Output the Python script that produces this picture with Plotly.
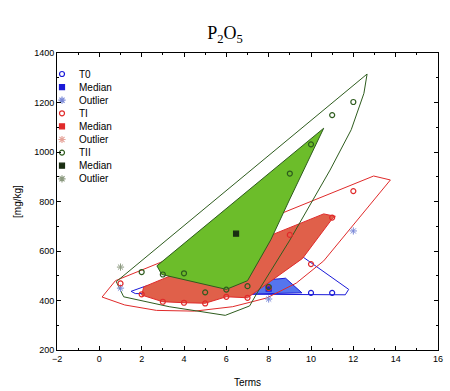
import plotly.graph_objects as go

# ---------------- data ----------------
# T0 (blue)
t0_x = [10, 11]
t0_y = [431, 431]
t0_med_x = [8]
t0_med_y = [448]
t0_out_x = [1, 8, 12]
t0_out_y = [450, 406, 681]
t0_bag_x = [2.3, 8.8, 9.57, 7.0, 2.3]
t0_bag_y = [440, 490, 431, 426, 432]
t0_fence_x = [1.5, 2.15, 9.65, 11.78, 11.62, 1.7, 1.5]
t0_fence_y = [437, 457, 574, 445, 423, 428, 437]

# TI (red)
t1_x = [1, 2, 3, 4, 5, 6, 7, 8, 9, 10, 11, 12]
t1_y = [469, 425, 395, 391, 388, 415, 411, 450, 665, 547, 735, 842]
t1_med_x = [6.5]
t1_med_y = [545]
t1_out_x = []
t1_out_y = []
t1_bag_x = [2.0, 2.1, 3.0, 10.6, 11.15, 11.0, 9.6, 7.0, 6.0, 5.0, 4.0, 3.0, 2.0]
t1_bag_y = [422, 455, 487, 750, 740, 730, 570, 411, 415, 389, 391, 395, 422]
t1_fence_x = [0.13, 0.76, 12.96, 13.75, 10.6, 9.3, 7.9, 6.3, 4.5, 2.7, 1.2, 0.13]
t1_fence_y = [414, 480, 903, 887, 560, 470, 410, 375, 357, 360, 382, 414]

# TII (green)
t2_x = [2, 3, 4, 5, 6, 7, 8, 9, 10, 11, 12]
t2_y = [515, 505, 510, 433, 444, 458, 455, 913, 1031, 1149, 1202]
t2_med_x = [6.46]
t2_med_y = [670]
t2_out_x = [1]
t2_out_y = [535]
t2_bag_x = [2.72, 10.6, 9.0, 8.1, 7.0, 6.0, 2.95, 2.72]
t2_bag_y = [540, 1096, 810, 645, 480, 445, 505, 540]
t2_fence_x = [0.8, 12.65, 12.5, 11.9, 10.9, 9.65, 9.0, 7.45, 7.1, 5.95, 3.3, 1.15, 0.8]
t2_fence_y = [476, 1315, 1237, 1090, 927, 739, 644, 430, 378, 340, 375, 415, 476]

x_ticks = [-2, 0, 2, 4, 6, 8, 10, 12, 14, 16]
y_ticks = [200, 400, 600, 800, 1000, 1200, 1400]

legend_labels = ["T0", "Median", "Outlier", "TI", "Median", "Outlier", "TII", "Median", "Outlier"]

# ---------------- styles ----------------
BLUE = "#1a1ad8"
BLUE_FILL = "#5575ee"
BLUE_OUT = "#7b8ad8"
RED = "#e02a2a"
RED_FILL = "#e0604a"
RED_OUT = "#e6a49a"
GREEN = "#2e5c1e"
GREEN_FILL = "#6cbd2a"
GREEN_MED = "#1a2e12"
GREEN_OUT = "#8c9a80"

legend_styles = [
    ("circle-open", BLUE, 5), ("square", BLUE, 5), ("asterisk-open", BLUE_OUT, 6),
    ("circle-open", RED, 5), ("square", RED, 5), ("asterisk-open", RED_OUT, 6),
    ("circle-open", GREEN, 5), ("square", GREEN_MED, 5), ("asterisk-open", GREEN_OUT, 6),
]

fig = go.Figure()

def poly(x, y, line_color, fill_color=None, width=1.0):
    fig.add_trace(go.Scatter(
        x=x, y=y, mode="lines",
        line=dict(color=line_color, width=width),
        fill="toself" if fill_color else None,
        fillcolor=fill_color,
        showlegend=False, hoverinfo="skip"))

def pts(x, y, name, symbol, color, size, lw=1.2):
    fig.add_trace(go.Scatter(
        x=x, y=y, mode="markers", name=name, showlegend=False,
        marker=dict(symbol=symbol, color=color, size=size,
                    line=dict(color=color, width=lw))))

# blue layer
poly(t0_fence_x, t0_fence_y, BLUE)
poly(t0_bag_x, t0_bag_y, BLUE, BLUE_FILL)
pts(t0_med_x, t0_med_y, "Median", "square", BLUE, 5)
# red layer
poly(t1_bag_x, t1_bag_y, RED, RED_FILL)
poly(t1_fence_x, t1_fence_y, RED)
pts(t1_med_x, t1_med_y, "Median", "square", RED, 5)
# green layer
poly(t2_bag_x, t2_bag_y, GREEN, GREEN_FILL)
poly(t2_fence_x, t2_fence_y, GREEN)
pts(t2_med_x, t2_med_y, "Median", "square", GREEN_MED, 5)

# points
pts(t0_x, t0_y, "T0", "circle-open", BLUE, 5)
pts(t0_out_x, t0_out_y, "Outlier", "asterisk-open", BLUE_OUT, 6, 1.0)
pts(t1_x, t1_y, "TI", "circle-open", RED, 5)
pts(t1_out_x, t1_out_y, "Outlier", "asterisk-open", RED_OUT, 6, 1.0)
pts(t2_x, t2_y, "TII", "circle-open", GREEN, 5)
pts(t2_out_x, t2_out_y, "Outlier", "asterisk-open", GREEN_OUT, 6, 1.0)

# ---------------- manual legend (compact rows like the original) ----------------
W, H = 450, 391
ML, MR, MT, MB = 57, 12, 53, 41
plot_w = W - ML - MR
plot_h = H - MT - MB
leg_marker_px = 62
leg_text_px = 77
leg_top_px = 74
leg_step_px = 13.1
leg_fx_m = (leg_marker_px - ML) / plot_w
leg_fx_t = (leg_text_px - ML) / plot_w
for i, (lab, (sym, col, sz)) in enumerate(zip(legend_labels, legend_styles)):
    fy = (H - MB - (leg_top_px + i * leg_step_px)) / plot_h
    fig.add_trace(go.Scatter(
        x=[leg_fx_m], y=[fy], xaxis="x2", yaxis="y2", mode="markers",
        showlegend=False, hoverinfo="skip",
        marker=dict(symbol=sym, color=col, size=sz, line=dict(color=col, width=1.2))))
    fig.add_annotation(x=leg_fx_t, y=fy, xref="paper", yref="paper", text=lab,
                       showarrow=False, xanchor="left", yanchor="middle",
                       font=dict(family="Liberation Sans", size=10, color="black"))

axis_common = dict(
    showline=True, linecolor="black", linewidth=1, mirror="ticks",
    ticks="inside", ticklen=4, tickcolor="black", showgrid=False, automargin=False,
    zeroline=False, tickfont=dict(family="Liberation Sans", size=9, color="black"),
)

fig.update_xaxes(range=[-2, 16], tickvals=x_ticks,
                 minor=dict(dtick=1, ticks="inside", ticklen=2, tickcolor="black", showgrid=False),
                 title=dict(text="Terms", font=dict(family="Liberation Sans", size=10, color="black"), standoff=16),
                 **axis_common)
fig.update_yaxes(range=[200, 1400], tickvals=y_ticks,
                 minor=dict(dtick=100, ticks="inside", ticklen=2, tickcolor="black", showgrid=False),
                 title=dict(text="[mg/kg]", font=dict(family="Liberation Sans", size=10, color="black"), standoff=10),
                 **axis_common)

fig.update_layout(
    width=W, height=H,
    margin=dict(l=ML, r=MR, t=MT, b=MB),
    paper_bgcolor="white", plot_bgcolor="white",
    xaxis2=dict(overlaying="x", range=[0, 1], visible=False, fixedrange=True),
    yaxis2=dict(overlaying="y", range=[0, 1], visible=False, fixedrange=True),
    title=dict(text="P<sub>2</sub>O<sub>5</sub>", x=0.5, xref="container", xanchor="center",
               y=1 - 33 / 391, yref="container", yanchor="middle",
               font=dict(family="Liberation Serif", size=18, color="black")),
    showlegend=False,
)

fig.write_html("out.html", config={"displayModeBar": False},
               post_script="document.body.style.margin='0';document.body.style.overflow='hidden';")
